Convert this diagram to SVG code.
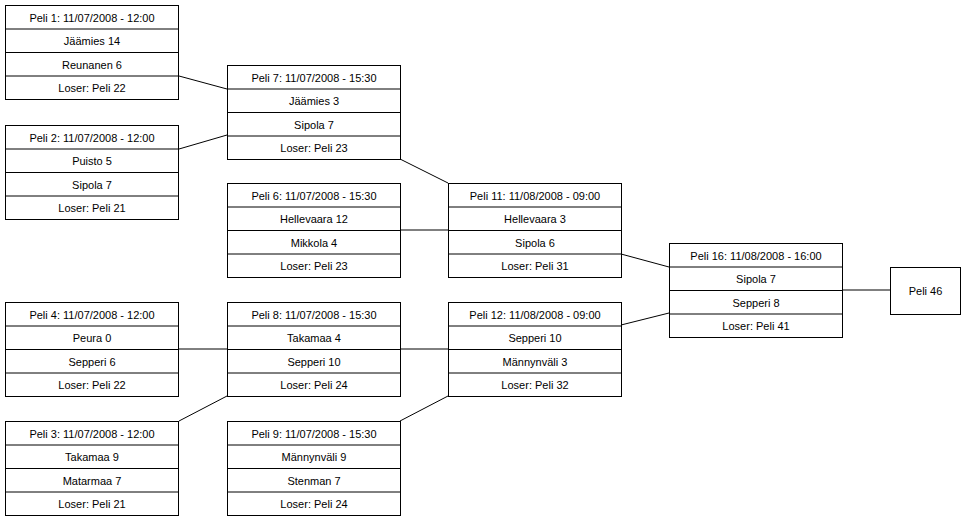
<svg xmlns="http://www.w3.org/2000/svg" width="966" height="521" viewBox="0 0 966 521">
<style>
rect{fill:#fff;stroke:#000;stroke-width:1}
line{stroke:#000;stroke-width:1}
text{font-family:"Liberation Sans",Arial,sans-serif;font-size:11px;text-anchor:middle;fill:#000}
</style>
<rect x="0" y="0" width="966" height="521" style="stroke:none"/>
<defs>
<g id="box">
<rect x="0" y="0" width="173" height="94"/>
<line x1="0" y1="23.5" x2="173" y2="23.5"/>
<line x1="0" y1="47" x2="173" y2="47"/>
<line x1="0" y1="70.5" x2="173" y2="70.5"/>
</g>
</defs>
<g id="connectors">
<line x1="179" y1="76" x2="227" y2="89"/>
<line x1="179" y1="149" x2="227" y2="135"/>
<line x1="400" y1="159" x2="448" y2="183"/>
<line x1="400" y1="230" x2="448" y2="230"/>
<line x1="621" y1="254" x2="669" y2="267"/>
<line x1="621" y1="325" x2="669" y2="313"/>
<line x1="842" y1="290" x2="890" y2="290"/>
<line x1="179" y1="349" x2="227" y2="349"/>
<line x1="400" y1="349" x2="448" y2="349"/>
<line x1="179" y1="421" x2="227" y2="396"/>
<line x1="400" y1="421" x2="448" y2="396"/>
</g>
<g id="peli1" transform="translate(5.5,5.5)"><use href="#box"/><text x="86.5" y="16">Peli 1: 11/07/2008 - 12:00</text><text x="86.5" y="39.5">Jäämies 14</text><text x="86.5" y="63">Reunanen 6</text><text x="86.5" y="86.5">Loser: Peli 22</text></g>
<g id="peli2" transform="translate(5.5,125.5)"><use href="#box"/><text x="86.5" y="16">Peli 2: 11/07/2008 - 12:00</text><text x="86.5" y="39.5">Puisto 5</text><text x="86.5" y="63">Sipola 7</text><text x="86.5" y="86.5">Loser: Peli 21</text></g>
<g id="peli4" transform="translate(5.5,302.5)"><use href="#box"/><text x="86.5" y="16">Peli 4: 11/07/2008 - 12:00</text><text x="86.5" y="39.5">Peura 0</text><text x="86.5" y="63">Sepperi 6</text><text x="86.5" y="86.5">Loser: Peli 22</text></g>
<g id="peli3" transform="translate(5.5,421.5)"><use href="#box"/><text x="86.5" y="16">Peli 3: 11/07/2008 - 12:00</text><text x="86.5" y="39.5">Takamaa 9</text><text x="86.5" y="63">Matarmaa 7</text><text x="86.5" y="86.5">Loser: Peli 21</text></g>
<g id="peli7" transform="translate(227.5,65.5)"><use href="#box"/><text x="86.5" y="16">Peli 7: 11/07/2008 - 15:30</text><text x="86.5" y="39.5">Jäämies 3</text><text x="86.5" y="63">Sipola 7</text><text x="86.5" y="86.5">Loser: Peli 23</text></g>
<g id="peli6" transform="translate(227.5,183.5)"><use href="#box"/><text x="86.5" y="16">Peli 6: 11/07/2008 - 15:30</text><text x="86.5" y="39.5">Hellevaara 12</text><text x="86.5" y="63">Mikkola 4</text><text x="86.5" y="86.5">Loser: Peli 23</text></g>
<g id="peli8" transform="translate(227.5,302.5)"><use href="#box"/><text x="86.5" y="16">Peli 8: 11/07/2008 - 15:30</text><text x="86.5" y="39.5">Takamaa 4</text><text x="86.5" y="63">Sepperi 10</text><text x="86.5" y="86.5">Loser: Peli 24</text></g>
<g id="peli9" transform="translate(227.5,421.5)"><use href="#box"/><text x="86.5" y="16">Peli 9: 11/07/2008 - 15:30</text><text x="86.5" y="39.5">Männynväli 9</text><text x="86.5" y="63">Stenman 7</text><text x="86.5" y="86.5">Loser: Peli 24</text></g>
<g id="peli11" transform="translate(448.5,183.5)"><use href="#box"/><text x="86.5" y="16">Peli 11: 11/08/2008 - 09:00</text><text x="86.5" y="39.5">Hellevaara 3</text><text x="86.5" y="63">Sipola 6</text><text x="86.5" y="86.5">Loser: Peli 31</text></g>
<g id="peli12" transform="translate(448.5,302.5)"><use href="#box"/><text x="86.5" y="16">Peli 12: 11/08/2008 - 09:00</text><text x="86.5" y="39.5">Sepperi 10</text><text x="86.5" y="63">Männynväli 3</text><text x="86.5" y="86.5">Loser: Peli 32</text></g>
<g id="peli16" transform="translate(669.5,243.5)"><use href="#box"/><text x="86.5" y="16">Peli 16: 11/08/2008 - 16:00</text><text x="86.5" y="39.5">Sipola 7</text><text x="86.5" y="63">Sepperi 8</text><text x="86.5" y="86.5">Loser: Peli 41</text></g>
<g id="peli46" transform="translate(890.5,267.5)"><rect x="0" y="0" width="70" height="47"/><text x="35" y="27">Peli 46</text></g>
</svg>
